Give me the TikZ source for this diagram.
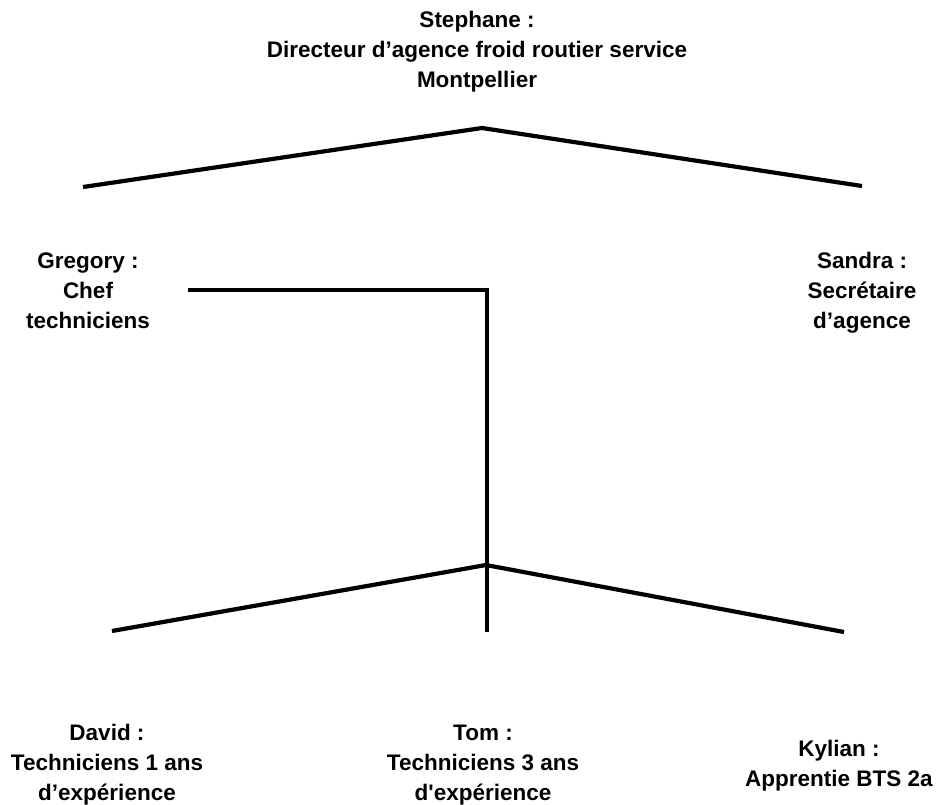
\documentclass[tikz,border=0pt]{standalone}
\usepackage{fontspec}
\setmainfont{Liberation Sans}
\newfontfamily\lblfont{Liberation Sans}
\begin{document}
\begin{tikzpicture}[x=1pt,y=-1pt,
  lbl/.style={align=center,inner sep=0pt,font=\lblfont\fontsize{22.5}{30}\selectfont\bfseries},
  conn/.style={line width=4.2pt,black,line join=miter}]
\useasboundingbox[fill=white] (0,0) rectangle (936,804);
% labels
\node[lbl] (stephane) at (477,52) {Stephane :\\Directeur d’agence froid routier service\\Montpellier};
\node[lbl] (gregory) at (88,291) {Gregory :\\Chef\\techniciens};
\node[lbl] (sandra) at (862,293) {Sandra :\\Secrétaire\\d’agence};
\node[lbl] (david) at (107,765) {David :\\Techniciens 1 ans\\d’expérience};
\node[lbl] (tom) at (483,765) {Tom :\\Techniciens 3 ans\\d'expérience};
\node[lbl] (kylian) at (839,766) {Kylian :\\Apprentie BTS 2a};
% connector points
\coordinate (topapex) at (482,128);
\coordinate (topL) at (83,187);
\coordinate (topR) at (862,186);
\coordinate (gstart) at (188,290);
\coordinate (gcorner) at (487,290);
\coordinate (gend) at (487,632);
\coordinate (botapex) at (486,565);
\coordinate (botL) at (112,631);
\coordinate (botR) at (844,632);
% connectors
\draw[conn] (topL) -- (topapex) -- (topR);
\draw[conn] (gstart) -- (gcorner) -- (gend);
\draw[conn] (botL) -- (botapex) -- (botR);
\end{tikzpicture}
\end{document}
